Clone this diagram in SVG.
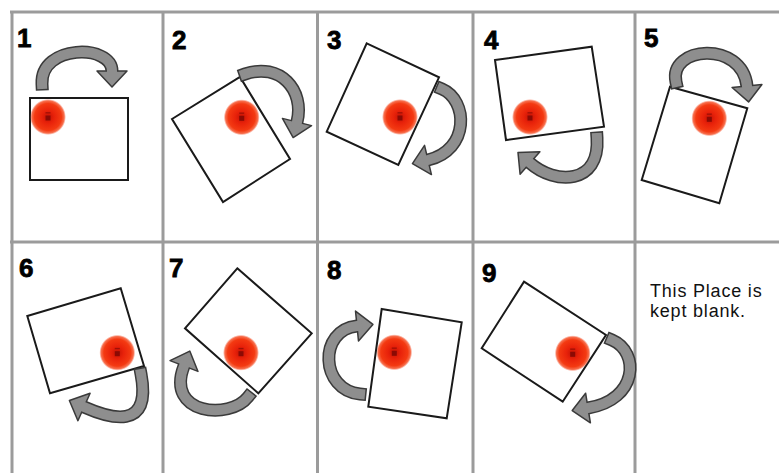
<svg xmlns="http://www.w3.org/2000/svg" width="779" height="473" viewBox="0 0 779 473">
<style>
.grid{stroke:#9b9b9b;stroke-width:3;fill:none}
.num{font-family:"Liberation Sans",Arial,sans-serif;font-weight:bold;font-size:26px;fill:#000;stroke:#000;stroke-width:0.8}
.note{font-family:"Liberation Sans",Arial,sans-serif;font-size:18px;letter-spacing:0.8px;fill:#111}
.card{fill:#fff;stroke:#1a1a1a;stroke-width:2}
.ab{fill:none;stroke:#3a3a3a;stroke-width:13;stroke-linecap:square}
.ag{fill:none;stroke:#8e8e8e;stroke-width:10;stroke-linecap:square}
.ah{fill:#8e8e8e;stroke:#3a3a3a;stroke-width:1.5;stroke-linejoin:round}
</style>
<defs>
<radialGradient id="rg" cx="0.5" cy="0.5" r="0.5">
<stop offset="0" stop-color="#c41204"/>
<stop offset="0.35" stop-color="#e8220a"/>
<stop offset="0.75" stop-color="#f43a12"/>
<stop offset="0.9" stop-color="#f54a20" stop-opacity="0.8"/>
<stop offset="1" stop-color="#f86040" stop-opacity="0"/>
</radialGradient>
<g id="pin">
<circle r="18" fill="url(#rg)"/>
<rect x="-2.5" y="-1.5" width="5" height="5" fill="#8b0a04"/>
<rect x="-2.5" y="-4.8" width="5" height="1.3" fill="#a01006"/>
</g>
<polygon id="hd" class="ah" points="-15,0 15,0 0,16"/>
</defs>
<rect width="779" height="473" fill="#fff"/>
<g id="grid">
<line class="grid" x1="10" y1="12" x2="779" y2="12"/>
<line class="grid" x1="10" y1="242" x2="779" y2="242"/>
<line class="grid" x1="12" y1="11" x2="12" y2="473"/>
<line class="grid" x1="163" y1="11" x2="163" y2="473"/>
<line class="grid" x1="317.5" y1="11" x2="317.5" y2="473"/>
<line class="grid" x1="473" y1="11" x2="473" y2="473"/>
<line class="grid" x1="635" y1="11" x2="635" y2="473"/>
</g>
<g id="cell1">
<text class="num" x="17" y="47">1</text>
<polygon class="card" points="30,98 128,98 128,180 30,180"/>
<g class="rot-arrow">
<path class="ab" d="M42,84 C40,44 112,44 112,71"/>
<use href="#hd" transform="translate(112,71) rotate(0)"/>
<path class="ag" d="M42,84 C40,44 112,44 112,71"/>
</g>
<use href="#pin" x="48" y="117"/>
</g>
<g id="cell2">
<text class="num" x="172" y="49">2</text>
<polygon class="card" points="172,119 240,77 290,159 223,202"/>
<g class="rot-arrow">
<path class="ab" d="M245,74 C280,62 305,90 297,122"/>
<use href="#hd" transform="translate(297,122) rotate(13.9)"/>
<path class="ag" d="M245,74 C280,62 305,90 297,122"/>
</g>
<use href="#pin" x="241.7" y="117.3"/>
</g>
<g id="cell3">
<text class="num" x="327" y="49">3</text>
<polygon class="card" points="366.7,43.3 439,77.3 398.3,165 326.7,131.7"/>
<g class="rot-arrow">
<path class="ab" d="M442,89 C468,100 470,150 428,160"/>
<use href="#hd" transform="translate(428,160) rotate(76.7)"/>
<path class="ag" d="M442,89 C468,100 470,150 428,160"/>
</g>
<use href="#pin" x="400" y="117"/>
</g>
<g id="cell4">
<text class="num" x="484" y="49">4</text>
<polygon class="card" points="495,60 591.7,46.7 604,126.7 506,140"/>
<g class="rot-arrow">
<path class="ab" d="M597,138 C600,185 555,185 530,163"/>
<use href="#hd" transform="translate(530,163) rotate(131.3)"/>
<path class="ag" d="M597,138 C600,185 555,185 530,163"/>
</g>
<use href="#pin" x="530" y="117"/>
</g>
<g id="cell5">
<text class="num" x="644" y="47">5</text>
<polygon class="card" points="670,86.7 747.3,108.3 719.3,203.3 641.7,180"/>
<g class="rot-arrow">
<path class="ab" d="M676,82 C668,46 742,40 747,86"/>
<use href="#hd" transform="translate(747,86) rotate(-5.7)"/>
<path class="ag" d="M676,82 C668,46 742,40 747,86"/>
</g>
<use href="#pin" x="709.3" y="118.3"/>
</g>
<g id="cell6">
<text class="num" x="19" y="277">6</text>
<polygon class="card" points="27.3,316 120.7,288.3 144,366 50,393.3"/>
<g class="rot-arrow">
<path class="ab" d="M141,374 C152,432 109,418 84,407"/>
<use href="#hd" transform="translate(84,407) rotate(114)"/>
<path class="ag" d="M141,374 C152,432 109,418 84,407"/>
</g>
<use href="#pin" x="117.3" y="352.7"/>
</g>
<g id="cell7">
<text class="num" x="169" y="277">7</text>
<polygon class="card" points="237.3,268.3 311.7,333.3 258.3,393.3 185,328.3"/>
<g class="rot-arrow">
<path class="ab" d="M248,397 C230,420 165,415 184,366"/>
<use href="#hd" transform="translate(184,366) rotate(201.2)"/>
<path class="ag" d="M248,397 C230,420 165,415 184,366"/>
</g>
<use href="#pin" x="241" y="352.7"/>
</g>
<g id="cell8">
<text class="num" x="327" y="279">8</text>
<polygon class="card" points="381.7,309 461.7,322.3 446.7,418.3 368.3,406.7"/>
<g class="rot-arrow">
<path class="ab" d="M360,394 C320,390 318,330 357,326"/>
<use href="#hd" transform="translate(357,326) rotate(-95.7)"/>
<path class="ag" d="M360,394 C320,390 318,330 357,326"/>
</g>
<use href="#pin" x="394.3" y="352.3"/>
</g>
<g id="cell9">
<text class="num" x="482" y="282">9</text>
<polygon class="card" points="524,281.7 606,335 562.7,401.7 481.7,348.3"/>
<g class="rot-arrow">
<path class="ab" d="M612,340 C640,352 638,400 588,408"/>
<use href="#hd" transform="translate(588,408) rotate(80.8)"/>
<path class="ag" d="M612,340 C640,352 638,400 588,408"/>
</g>
<use href="#pin" x="572.7" y="353.3"/>
</g>
<g id="cell10">
<text class="note" x="650" y="297">This Place is</text>
<text class="note" x="650" y="317">kept blank.</text>
</g>
</svg>
